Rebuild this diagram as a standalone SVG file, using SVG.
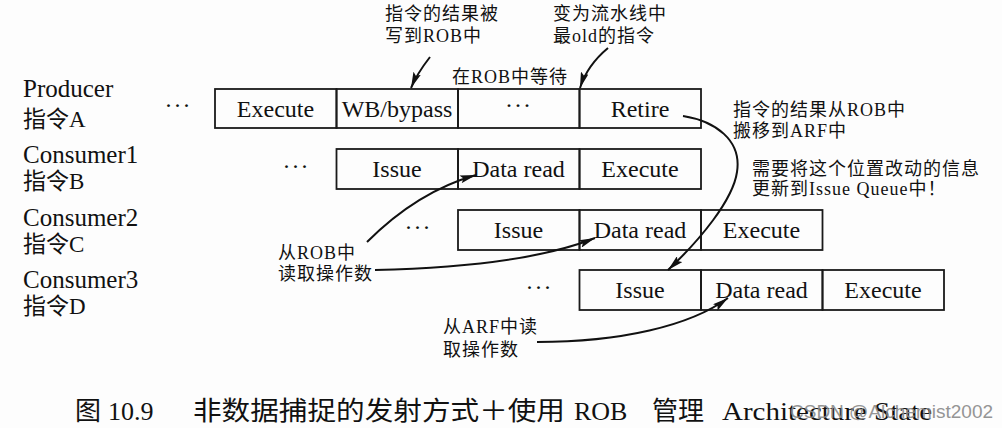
<svg xmlns="http://www.w3.org/2000/svg" width="1002" height="428" viewBox="0 0 1002 428">
<style>
.bg{fill:#fdfdfd}
.cell{fill:none;stroke:#1a1a1a;stroke-width:1.8}
.lbl{font-family:"Liberation Serif","Noto Sans CJK SC",serif;font-size:24px;fill:#111;text-anchor:middle}
.side{font-family:"Liberation Serif","Noto Sans CJK SC",serif;font-size:25px;fill:#111}
.sidecn{font-family:"Liberation Serif","Noto Sans CJK SC",serif;font-size:23px;fill:#111}
.dots{font-family:"Liberation Serif",serif;font-size:24px;fill:#111;text-anchor:middle;letter-spacing:1px}
.note{font-family:"Liberation Serif","Noto Sans CJK SC",serif;font-size:18px;fill:#111;letter-spacing:1px}
.cap{font-family:"Liberation Serif","Noto Sans CJK SC",serif;font-size:26px;fill:#111}
.wm{font-family:"Liberation Sans","Noto Sans",sans-serif;font-size:19px;fill:#8a8a8a;opacity:0.9}
.conn{fill:none;stroke:#111;stroke-width:2}
</style>
<defs>
<marker id="ah" viewBox="0 0 16 8" refX="16" refY="4" markerWidth="16" markerHeight="8" markerUnits="userSpaceOnUse" orient="auto">
<path d="M0,0 L16,4 L0,8 L3,4 z" fill="#111"/>
</marker>
</defs>
<rect class="bg" x="0" y="0" width="1002" height="428"/>

<g id="labels-left">
<text class="side" x="23" y="97">Producer</text>
<text class="sidecn" x="23" y="127">指令A</text>
<text class="side" x="23" y="163">Consumer1</text>
<text class="sidecn" x="23" y="189">指令B</text>
<text class="side" x="23" y="226">Consumer2</text>
<text class="sidecn" x="23" y="252">指令C</text>
<text class="side" x="23" y="288">Consumer3</text>
<text class="sidecn" x="23" y="314">指令D</text>
</g>

<g id="rowA">
<text class="dots" x="178" y="113">···</text>
<rect class="cell" x="215" y="89" width="121.5" height="39"/>
<rect class="cell" x="336.5" y="89" width="121.5" height="39"/>
<rect class="cell" x="458" y="89" width="121.5" height="39"/>
<rect class="cell" x="579.5" y="89" width="121.5" height="39"/>
<text class="lbl" x="275.5" y="117">Execute</text>
<text class="lbl" x="397" y="117">WB/bypass</text>
<text class="dots" x="518.5" y="113">···</text>
<text class="lbl" x="640" y="117">Retire</text>
</g>

<g id="rowB">
<text class="dots" x="296" y="174">···</text>
<rect class="cell" x="336.5" y="149" width="121.5" height="40"/>
<rect class="cell" x="458" y="149" width="121.5" height="40"/>
<rect class="cell" x="579.5" y="149" width="121.5" height="40"/>
<text class="lbl" x="397" y="177">Issue</text>
<text class="lbl" x="518.5" y="177">Data read</text>
<text class="lbl" x="640" y="177">Execute</text>
</g>

<g id="rowC">
<text class="dots" x="418" y="235">···</text>
<rect class="cell" x="458" y="210" width="121.5" height="40"/>
<rect class="cell" x="579.5" y="210" width="121.5" height="40"/>
<rect class="cell" x="701" y="210" width="121.5" height="40"/>
<text class="lbl" x="518.5" y="238">Issue</text>
<text class="lbl" x="640" y="238">Data read</text>
<text class="lbl" x="761.5" y="238">Execute</text>
</g>

<g id="rowD">
<text class="dots" x="539" y="295">···</text>
<rect class="cell" x="579.5" y="270" width="121.5" height="40"/>
<rect class="cell" x="701" y="270" width="121.5" height="40"/>
<rect class="cell" x="822.5" y="270" width="121.5" height="40"/>
<text class="lbl" x="640" y="298">Issue</text>
<text class="lbl" x="761.5" y="298">Data read</text>
<text class="lbl" x="883" y="298">Execute</text>
</g>

<g id="notes">
<text class="note" x="385" y="20">指令的结果被</text>
<text class="note" x="385" y="42">写到ROB中</text>
<text class="note" x="553" y="20">变为流水线中</text>
<text class="note" x="553" y="42">最old的指令</text>
<text class="note" x="452" y="83">在ROB中等待</text>
<text class="note" x="733" y="116">指令的结果从ROB中</text>
<text class="note" x="733" y="137">搬移到ARF中</text>
<text class="note" x="752" y="175">需要将这个位置改动的信息</text>
<text class="note" x="752" y="195">更新到Issue Queue中！</text>
<text class="note" x="278" y="259">从ROB中</text>
<text class="note" x="278" y="280">读取操作数</text>
<text class="note" x="443" y="333">从ARF中读</text>
<text class="note" x="443" y="356">取操作数</text>
</g>

<g id="connectors">
<path class="conn" marker-end="url(#ah)" d="M430,57 C423,66 416,76 411,88"/>
<path class="conn" marker-end="url(#ah)" d="M608,48 C596,58 585,72 580,88"/>
<path class="conn" marker-end="url(#ah)" d="M683,116 C715,121 742,140 737,172 C733,200 700,240 668,270"/>
<path class="conn" marker-end="url(#ah)" d="M367,242 C395,214 430,188 476,175"/>
<path class="conn" marker-end="url(#ah)" d="M375,270 C470,268 545,258 595,238"/>
<path class="conn" marker-end="url(#ah)" d="M537,342 C620,342 690,326 728,298"/>
</g>

<g id="caption">
<text class="cap" x="75" y="420">图</text>
<text class="cap" x="108" y="420">10.9</text>
<text class="cap" x="193" y="420" textLength="372" lengthAdjust="spacingAndGlyphs">非数据捕捉的发射方式＋使用</text>
<text class="cap" x="574" y="420">ROB</text>
<text class="cap" x="652" y="420">管理</text>
<text class="cap" x="722" y="420" textLength="210" lengthAdjust="spacingAndGlyphs">Architecture State</text>
<text class="wm" x="790" y="418">CSDN @Alchemist2002</text>
</g>
</svg>
